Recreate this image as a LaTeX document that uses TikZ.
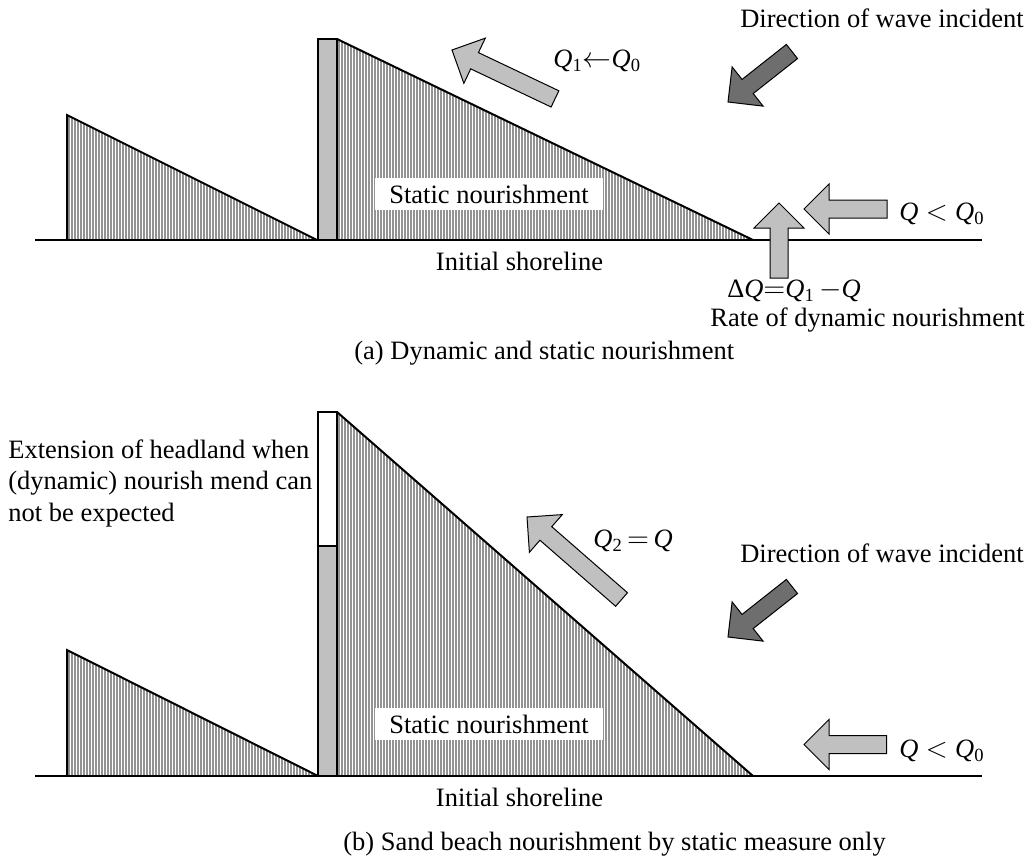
\documentclass[tikz,border=0pt]{standalone}
\usepackage{fontspec}
\setmainfont{Liberation Serif}
\usepackage{tikz}
\usetikzlibrary{positioning}
\definecolor{sablegris}{HTML}{939393}
\definecolor{flechegris}{HTML}{C0C0C0}
\definecolor{flechefonce}{HTML}{6E6E6E}
\definecolor{tetegris}{HTML}{C0C0C0}
\newcommand{\Qi}[1]{\textit{Q}\textsubscript{#1}}
\newcommand{\blockarrow}[4][flechegris]{%
  \draw[fleche, fill=#1, shift={#2}, rotate=#3]
    (0,0) -- (-25,-25) -- (-25,-9) -- (-#4,-9) -- (-#4,9) -- (-25,9) -- (-25,25) -- cycle;}
\tikzset{
  contour/.style={line width=1pt, line join=miter},
  hachure/.style={draw=sablegris, line width=0.85pt},
  fleche/.style={draw, line width=0.5pt, line join=miter},
  boite/.style={fill=white, inner sep=0pt, minimum width=114pt, minimum height=16pt}
}

\begin{document}
\begin{tikzpicture}[x=0.5pt,y=-0.5pt,
    every node/.style={font=\fontsize{13.25}{15.75}\selectfont, inner sep=0pt}]
  \useasboundingbox (0,0) rectangle (1030,858);

  % (a) hachures des plages
  \begin{scope}
    \clip (67,240) -- (67,115) -- (317,240) -- cycle
          (338,39) -- (338,240) -- (753,240) -- cycle;
    \foreach \x in {66,69,...,756} \draw[hachure] (\x,30) -- (\x,241);
  \end{scope}
  % (a) contours, epi et ligne de rivage
  \draw[contour] (67,240) -- (67,115) -- (317,240);
  \draw[contour, fill=tetegris] (318,39) rectangle (337,240);
  \draw[contour] (337,39) -- (753,240);
  \draw[contour] (35,240) -- (982,240);

  % (a) fleches
  \coordinate (pa) at (452,50);
  \coordinate (ha) at (728,102);
  \coordinate (ra) at (804,209);
  \coordinate (ua) at (779,203);
  \blockarrow{(pa)}{154.6}{114}
  \blockarrow[flechefonce]{(ha)}{218.3}{81.5}
  \blockarrow{(ra)}{180}{83}
  \blockarrow{(ua)}{90}{75}

  % (a) textes
  \node[boite] (stata) at (489,194) {Static nourishment};
  \node[anchor=base west] (qun) at (553,67) {\Qi{1}$\leftarrow$\Qi{0}};
  \node[anchor=base east] (dira) at (1024,27) {Direction of wave incident};
  \node[anchor=base west] (qinfa) at (899,220) {\textit{Q}\;$<$\;\Qi{0}};
  \node[anchor=base] (dq) at (794,297) {Δ\textit{Q}$=$\Qi{1}\,$-$\textit{Q}};
  \node[anchor=base east] (taux) at (1025,326) {Rate of dynamic nourishment};
  \node[anchor=base] (rivea) at (519.5,270) {Initial shoreline};
  \node[anchor=base west] (tita) at (354,359) {(a) Dynamic and static nourishment};

  % (b) hachures des plages
  \begin{scope}
    \clip (67,776) -- (67,650) -- (318,776) -- cycle
          (338,412) -- (338,776) -- (753,776) -- cycle;
    \foreach \x in {66,69,...,756} \draw[hachure] (\x,400) -- (\x,777);
  \end{scope}
  % (b) contours, epi prolonge et ligne de rivage
  \draw[contour] (67,776) -- (67,650) -- (318,776);
  \draw[contour, fill=white] (318,412) rectangle (337,546);
  \draw[contour, fill=tetegris] (318,546) rectangle (337,776);
  \draw[contour] (337,412) -- (753,776);
  \draw[contour] (35,776) -- (982,776);

  % (b) fleches
  \coordinate (pb) at (527,517);
  \coordinate (hb) at (728,637);
  \coordinate (rb) at (804,744.5);
  \blockarrow{(pb)}{138.9}{125.5}
  \blockarrow[flechefonce]{(hb)}{218.3}{81.5}
  \blockarrow{(rb)}{180}{82.5}

  % (b) textes
  \node[boite] (statb) at (489,724) {Static nourishment};
  \node[anchor=north west, align=left] (ext) at (8,439)
    {Extension of headland when\\(dynamic) nourish mend can\\not be expected};
  \node[anchor=base west] (qdeux) at (593,547) {\Qi{2}\,$=$\,\textit{Q}};
  \node[anchor=base east] (dirb) at (1024,562) {Direction of wave incident};
  \node[anchor=base west] (qinfb) at (899,757) {\textit{Q}\;$<$\;\Qi{0}};
  \node[anchor=base] (riveb) at (519.5,806) {Initial shoreline};
  \node[anchor=base west] (titb) at (343,850) {(b) Sand beach nourishment by static measure only};
\end{tikzpicture}
\end{document}
